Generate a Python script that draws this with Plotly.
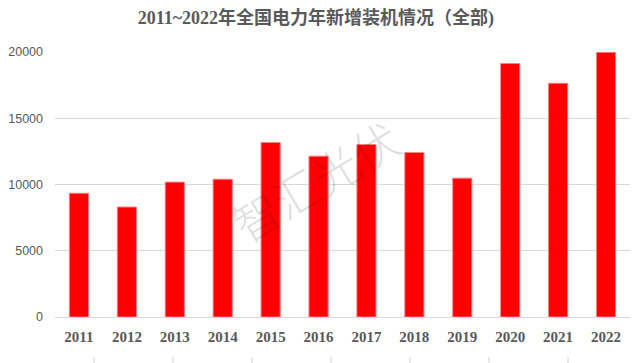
import plotly.graph_objects as go

years = ["2011", "2012", "2013", "2014", "2015", "2016", "2017", "2018", "2019", "2020", "2021", "2022"]
new_capacity = [9340, 8300, 10180, 10400, 13170, 12140, 13020, 12420, 10480, 19130, 17640, 19980]
y_ticks = [0, 5000, 10000, 15000, 20000]
y_tick_text = ["0", "5000", "10000", "15000", "20000"]
title_text = "2011~2022年全国电力年新增装机情况（全部)"
watermark = "智汇光伏"

fig = go.Figure()
fig.add_trace(go.Bar(
    x=years, y=new_capacity,
    marker=dict(color="#ff0000", line=dict(color="#ff8080", width=1)),
    hoverinfo="x+y",
))

fig.update_layout(
    width=640, height=363,
    margin=dict(l=47, r=18, t=44, b=54, autoexpand=False),
    paper_bgcolor="white", plot_bgcolor="white",
    bargap=0.6,
    showlegend=False,
    title=dict(text="<b>" + title_text + "</b>", x=0.481, xanchor="center", y=0.974, yanchor="middle",
               font=dict(family="Liberation Serif, Noto Sans CJK SC", size=18, color="#595959")),
    xaxis=dict(type="category", showgrid=False, showline=True, linecolor="#d9d9d9", linewidth=1,
               ticks="", ticklabelstandoff=6, automargin=False,
               tickfont=dict(family="Liberation Serif", size=15, color="#595959", weight="bold")),
    yaxis=dict(range=[0, 20000], tickvals=y_ticks, ticktext=y_tick_text, showgrid=True,
               gridcolor="#d9d9d9", gridwidth=1, automargin=False,
               zeroline=False, showline=False, ticks="", ticklabelstandoff=11,
               tickfont=dict(family="Liberation Sans", size=12.5, color="#595959")),
)

fig.add_annotation(text=watermark, xref="paper", yref="paper", x=0.452, y=0.517,
                   showarrow=False, textangle=-31,
                   font=dict(family="Noto Sans CJK SC", size=46, color="rgba(0,0,0,0.14)", weight=300))

# faint tick marks along the bottom edge (from an element below the chart)
for px in [94, 173, 252, 331, 410, 489, 568]:
    fig.add_shape(type="line", xref="paper", yref="paper",
                  x0=(px - 8 - 47) / 575, x1=(px - 8 - 47) / 575,
                  y0=-(349 - 309) / 265, y1=-(356 - 309) / 265,
                  line=dict(color="#d0d0d0", width=1))

fig.write_html("out.html")
